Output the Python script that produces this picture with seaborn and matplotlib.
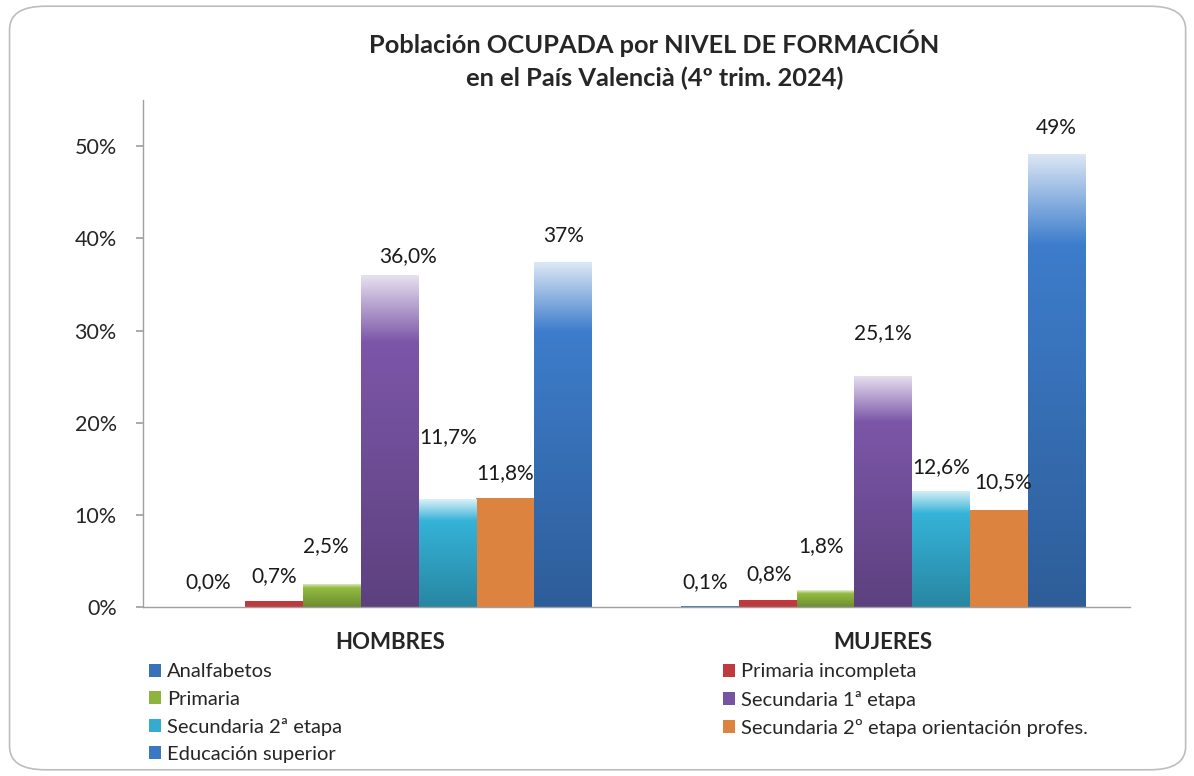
import numpy as np
import pandas as pd
import matplotlib.pyplot as plt
import matplotlib.colors as mcolors
from matplotlib.patches import FancyBboxPatch, Patch
import seaborn as sns

# data (% of employed population)
sexos = ['HOMBRES', 'MUJERES']
niveles = ['Analfabetos', 'Primaria incompleta', 'Primaria', 'Secundaria 1ª etapa',
           'Secundaria 2ª etapa', 'Secundaria 2º etapa orientación profes.', 'Educación superior']
hombres = [0.0, 0.7, 2.5, 36.0, 11.7, 11.8, 37.4]
mujeres = [0.1, 0.8, 1.8, 25.1, 12.6, 10.5, 49.2]
etiq_hombres = ['0,0%', '0,7%', '2,5%', '36,0%', '11,7%', '11,8%', '37%']
etiq_mujeres = ['0,1%', '0,8%', '1,8%', '25,1%', '12,6%', '10,5%', '49%']

colores = ['#3a70b8', '#c0393c', '#8db43e', '#7753a2', '#33acd0', '#dc843f', '#3b78c4']
degradado = [True, False, True, True, True, False, True]

# label offsets in pixels (dx, dy) from the bar top, like the excel placement
off_h = [(-8, 25), (0, 24), (-6, 38), (18, 19), (1, 62), (0, 25), (0, 26)]
off_m = [(-5, 24), (1, 26), (-4, 44), (0, 43), (0, 24), (4, 28), (0, 26)]

df = pd.DataFrame({
    'sexo': np.repeat(sexos, len(niveles)),
    'nivel': niveles * 2,
    'valor': hombres + mujeres,
})

sns.set_theme(style='white')
plt.rcParams['font.family'] = ['Lato', 'DejaVu Sans']

fig = plt.figure(figsize=(11.94, 7.76), dpi=100)
ax = fig.add_axes([0.1198, 0.2178, 0.8266, 0.6532])

sns.barplot(data=df, x='sexo', y='valor', hue='nivel', hue_order=niveles,
            palette=colores, saturation=1, width=0.82, gap=0, ax=ax, legend=False,
            errorbar=None, edgecolor='none', linewidth=0)


def gradiente(base, n=200):
    base = np.array(mcolors.to_rgb(base))
    oscuro = base * 0.78
    alto = np.clip(base * 1.04, 0, 1)
    claro = base + (1 - base) * 0.82
    t = np.linspace(0, 1, n)
    out = np.zeros((n, 3))
    for i, v in enumerate(t):
        if v < 0.8:
            k = v / 0.8
            out[i] = oscuro + (alto - oscuro) * k
        else:
            k = (v - 0.8) / 0.2
            out[i] = alto + (claro - alto) * k
    return np.clip(out, 0, 1)[:, None, :]


for cont, col, grad in zip(ax.containers, colores, degradado):
    for bar in cont:
        h = bar.get_height()
        if not grad or h <= 0:
            continue
        x0 = bar.get_x()
        im = ax.imshow(gradiente(col), extent=[x0, x0 + bar.get_width(), 0, h],
                       origin='lower', aspect='auto', zorder=bar.get_zorder() + 0.1,
                       interpolation='bilinear')
        im.set_clip_path(bar)
ax.set_xlim(-0.5, 1.5)
ax.set_ylim(0, 55)

# value labels
for i, cont in enumerate(ax.containers):
    for j, bar in enumerate(cont):
        etiq = (etiq_hombres if j == 0 else etiq_mujeres)[i]
        dx, dy = (off_h if j == 0 else off_m)[i]
        ax.annotate(etiq, (bar.get_x() + bar.get_width() / 2, bar.get_height()),
                    xytext=(dx, dy), textcoords='offset pixels',
                    ha='center', va='center', fontsize=15, color='#1a1a1a')

ax.set_yticks(range(0, 51, 10))
ax.set_yticklabels([f'{v}%' for v in range(0, 51, 10)], fontsize=15.5)
ax.set_xticks([0, 1])
ax.set_xticklabels(sexos, fontsize=16, fontweight='bold')
ax.set_xticks([-0.5, 0.5, 1.5], minor=True)
ax.tick_params(axis='x', which='major', length=0, pad=18)
ax.tick_params(axis='x', which='minor', length=6, color='#a0a0a0', direction='out')
ax.tick_params(axis='y', length=5, color='#a0a0a0', direction='out', pad=14, left=True)
ax.set_xlabel('')
ax.set_ylabel('')
for s in ['top', 'right']:
    ax.spines[s].set_visible(False)
for s in ['left', 'bottom']:
    ax.spines[s].set_color('#a0a0a0')
    ax.spines[s].set_linewidth(1)

fig.text(0.548, 0.923, 'Población OCUPADA por NIVEL DE FORMACIÓN\nen el País Valencià (4º trim. 2024)',
         ha='center', va='center', fontsize=18.3, fontweight='bold', linespacing=1.45)

# legend, filled column by column like the original
handles = [Patch(facecolor=c, edgecolor='none') for c in colores]
orden = [0, 2, 4, 6, 1, 3, 5]
fig.legend([handles[k] for k in orden], [niveles[k] for k in orden],
           loc='upper left', bbox_to_anchor=(0.125, 0.145), ncol=2, frameon=False,
           fontsize=14.5, handlelength=0.6, handleheight=0.6, handletextpad=0.3,
           columnspacing=18.9, labelspacing=0.5, borderpad=0, borderaxespad=0)

# rounded outer border
fig.patches.append(FancyBboxPatch((0.008, 0.008), 0.985, 0.984, transform=fig.transFigure,
                                  boxstyle='round,pad=0,rounding_size=0.03',
                                  facecolor='none', edgecolor='#bdbdbd', linewidth=1.2))

fig.savefig('out.png', dpi=100)
